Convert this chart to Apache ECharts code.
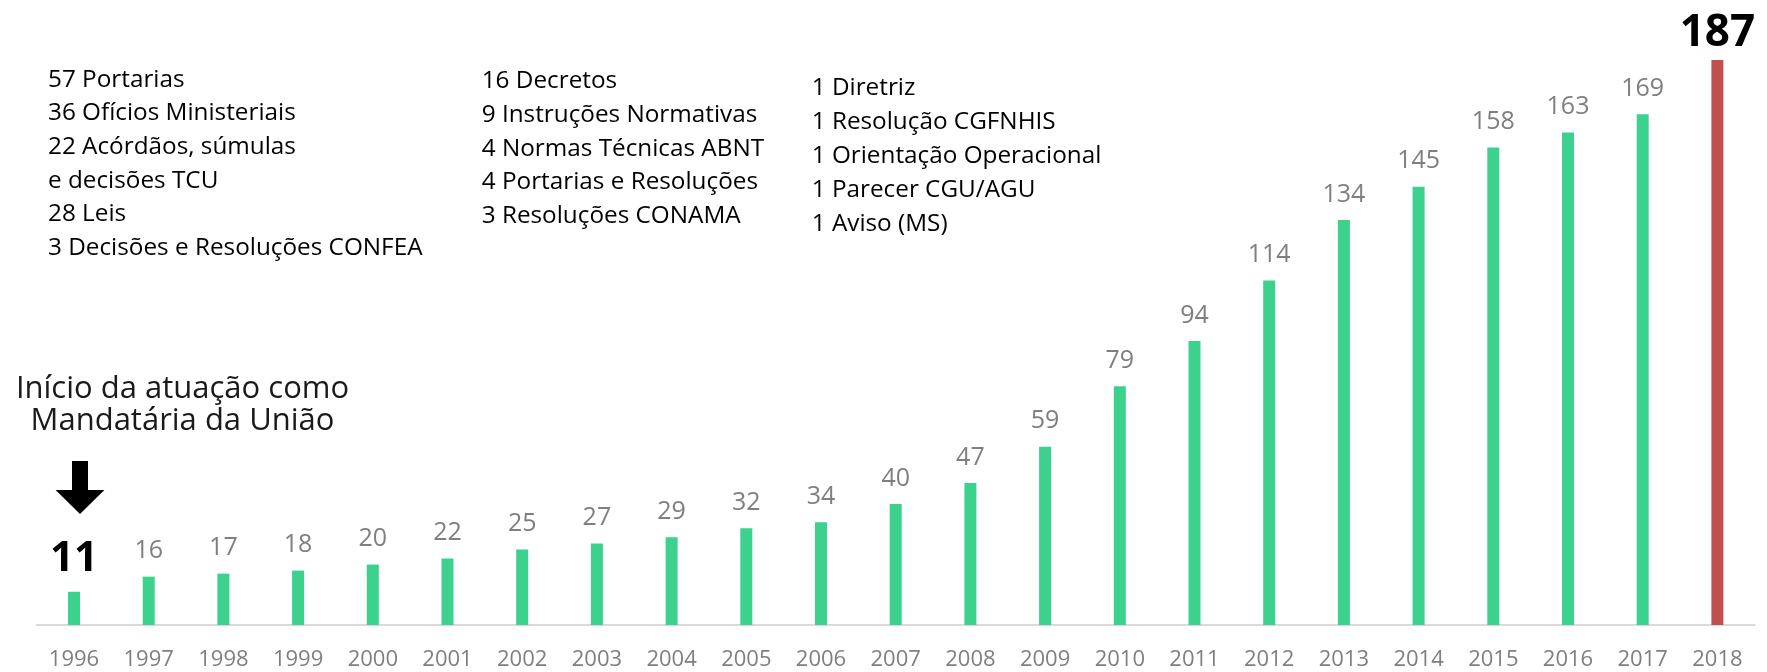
<!DOCTYPE html>
<html>
<head>
<meta charset="utf-8">
<script src="https://cdn.jsdelivr.net/npm/echarts@6/dist/echarts.min.js"></script>
<style>
html,body{margin:0;padding:0;background:#fff;}
#chart{width:1767px;height:672px;}
</style>
</head>
<body>
<div id="chart"></div>
<script>
var years = ['1996','1997','1998','1999','2000','2001','2002','2003','2004','2005','2006','2007','2008','2009','2010','2011','2012','2013','2014','2015','2016','2017','2018'];
var values = [11,16,17,18,20,22,25,27,29,32,34,40,47,59,79,94,114,134,145,158,163,169,187];
var notesCol1 = ['57 Portarias','36 Ofícios Ministeriais','22 Acórdãos, súmulas','e decisões TCU','28 Leis','3 Decisões e Resoluções CONFEA'];
var notesCol2 = ['16 Decretos','9 Instruções Normativas','4 Normas Técnicas ABNT','4 Portarias e Resoluções','3 Resoluções CONAMA'];
var notesCol3 = ['1 Diretriz','1 Resolução CGFNHIS','1 Orientação Operacional','1 Parecer CGU/AGU','1 Aviso (MS)'];
var startNote = ['Início da atuação como','Mandatária da União'];

var FONT = '"Open Sans", "Noto Sans", sans-serif';
var GREEN = '#3dd18e';
var RED = '#c0504d';

var seriesData = values.map(function (v, i) {
  var item = { value: v };
  if (i === 0) {
    item.label = { color: '#000', fontSize: 42, fontWeight: 'bold', distance: 12 };
  }
  if (i === values.length - 1) {
    item.itemStyle = { color: RED };
    item.label = { color: '#000', fontSize: 44, fontWeight: 'bold', distance: 4 };
  }
  return item;
});

var chart = echarts.init(document.getElementById('chart'));
chart.setOption({
  backgroundColor: '#ffffff',
  animation: false,
  grid: { left: 36.65, right: 12.25, top: 20.6, bottom: 47, containLabel: false, outerBoundsMode: 'none' },
  xAxis: {
    type: 'category',
    data: years,
    axisTick: { show: false },
    axisLine: { show: true, lineStyle: { color: '#d9d9d9', width: 2 } },
    axisLabel: { color: '#7f7f7f', fontSize: 22, fontFamily: FONT, margin: 24, interval: 0 },
    splitLine: { show: false }
  },
  yAxis: {
    type: 'value',
    min: 0,
    max: 200,
    show: false,
    splitLine: { show: false }
  },
  series: [{
    type: 'bar',
    data: seriesData,
    barWidth: 12,
    itemStyle: { color: GREEN },
    label: {
      show: true,
      position: 'top',
      distance: 13,
      color: '#7f7f7f',
      fontSize: 25,
      fontFamily: FONT
    }
  }],
  graphic: [
    {
      type: 'text', left: 48, top: 63.1,
      style: { text: notesCol1.join('\n'), font: '24.3px ' + FONT, lineHeight: 33.6, fill: '#000' }
    },
    {
      type: 'text', left: 481.7, top: 64.6,
      style: { text: notesCol2.join('\n'), font: '24.3px ' + FONT, lineHeight: 33.6, fill: '#000' }
    },
    {
      type: 'text', left: 811.7, top: 71.3,
      style: { text: notesCol3.join('\n'), font: '24.3px ' + FONT, lineHeight: 33.9, fill: '#000' }
    },
    {
      type: 'text', x: 182.5, y: 372.5,
      style: { text: startNote.join('\n'), font: '31px ' + FONT, lineHeight: 32.6, fill: '#1a1a1a', align: 'center', verticalAlign: 'top' }
    },
    {
      type: 'rect',
      shape: { x: 72, y: 461, width: 16, height: 30 },
      style: { fill: '#000' }
    },
    {
      type: 'polygon',
      shape: { points: [[55.6, 490], [104.4, 490], [80, 514]] },
      style: { fill: '#000' }
    }
  ]
});
</script>
</body>
</html>
